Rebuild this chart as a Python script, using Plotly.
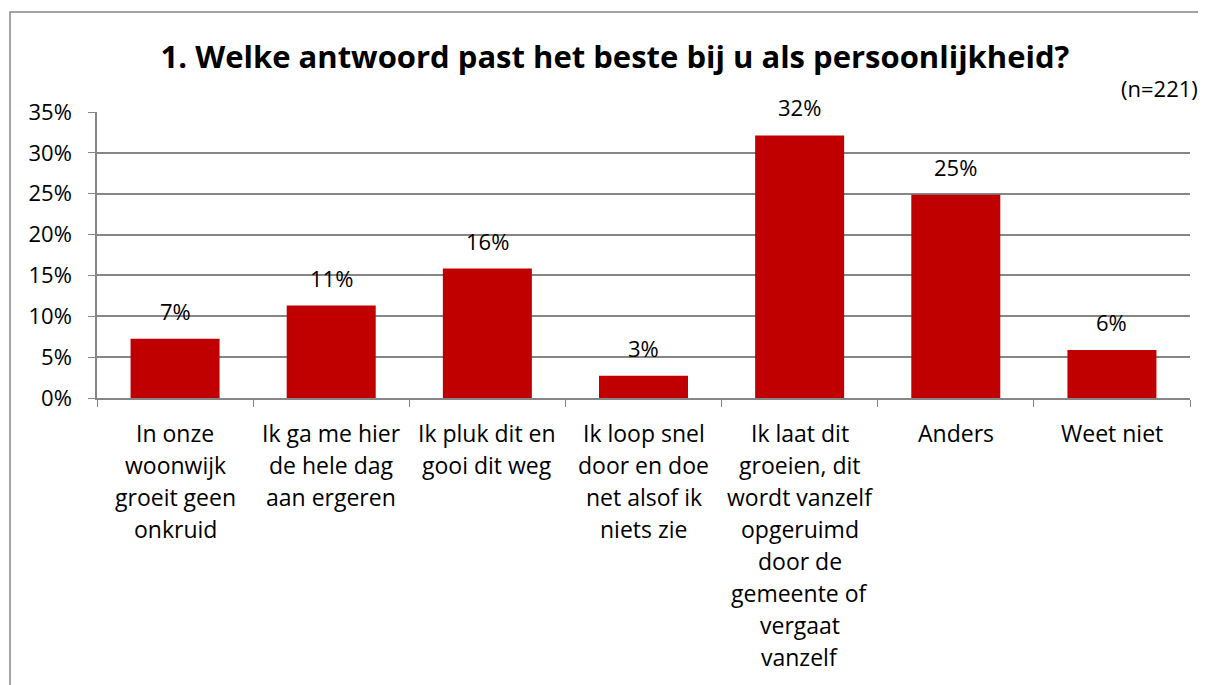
import plotly.graph_objects as go

categories = [
    "In onze|woonwijk|groeit geen|onkruid",
    "Ik ga me hier|de hele dag|aan ergeren",
    "Ik pluk dit en|gooi dit weg",
    "Ik loop snel|door en doe|net alsof ik|niets zie",
    "Ik laat dit|groeien, dit|wordt vanzelf|opgeruimd|door de|gemeente of|vergaat|vanzelf",
    "Anders",
    "Weet niet",
]
counts = [16, 25, 35, 6, 71, 55, 13]
n_total = 221
values = [c / n_total for c in counts]
y_ticks = [0, 0.05, 0.10, 0.15, 0.20, 0.25, 0.30, 0.35]

title_text = "1. Welke antwoord past het beste bij u als persoonlijkheid?"
n_label = "(n=221)"

FONT = "Open Sans"
RED = "#C00000"
GRID = "#868686"
FS = 23

W, H = 1198, 677  # page body has an 8px margin

fig = go.Figure()
fig.add_trace(go.Bar(
    x=list(range(len(categories))),
    y=values,
    marker=dict(color=RED, line=dict(width=0)),
    hoverinfo="skip",
))

annotations = []
for i, v in enumerate(values):
    annotations.append(dict(
        x=i, y=v, xref="x", yref="y", text=f"{round(v*100):.0f}%",
        showarrow=False, yanchor="bottom", yshift=11,
        font=dict(family=FONT, size=FS - 1, color="#000000"),
    ))
for i, cat in enumerate(categories):
    for j, line in enumerate(cat.split("|")):
        annotations.append(dict(
            x=i, y=0, xref="x", yref="paper", text=line,
            showarrow=False, yanchor="middle", yshift=-(35 + 32 * j),
            font=dict(family=FONT, size=FS, color="#000000"),
        ))
annotations.append(dict(
    x=1, y=1, xref="paper", yref="paper", text=n_label, showarrow=False,
    xanchor="right", yanchor="middle", xshift=10, yshift=24,
    font=dict(family=FONT, size=FS - 1, color="#000000"),
))

fx0 = (10 - 97) / 1093
fy1 = 1 + (112 - 12) / 286
frame_path = f"M {fx0},-1.5 L {fx0},{fy1} L 1.2,{fy1}"

fig.update_layout(
    width=W, height=H,
    margin=dict(l=89, r=16, t=104, b=287),
    paper_bgcolor="white", plot_bgcolor="white",
    showlegend=False,
    bargap=0.43,
    title=dict(text="<b>" + title_text + "</b>", x=(615 - 8) / W, xanchor="center",
               y=1 - (57 - 8) / H, yanchor="middle",
               font=dict(family=FONT, size=31, color="#000000")),
    annotations=annotations,
    shapes=[dict(type="path", xref="paper", yref="paper", path=frame_path,
                 line=dict(color=GRID, width=1.5), layer="below")],
    xaxis=dict(
        range=[-0.5, len(categories) - 0.5],
        tickvals=[k - 0.5 for k in range(len(categories) + 1)],
        showticklabels=False, ticks="outside", ticklen=7, tickcolor=GRID,
        showline=True, linecolor=GRID, linewidth=1.5, showgrid=False,
        zeroline=False, fixedrange=True,
    ),
    yaxis=dict(
        range=[0, 0.35], tickvals=y_ticks, tickformat=".0%",
        ticks="outside", ticklen=7, tickcolor=GRID,
        showline=True, linecolor=GRID, linewidth=1.5,
        showgrid=True, gridcolor=GRID, gridwidth=1.5, zeroline=False,
        ticklabelstandoff=12,
        tickfont=dict(family=FONT, size=FS - 1, color="#000000"),
    ),
)

fig.write_html("out.html")
